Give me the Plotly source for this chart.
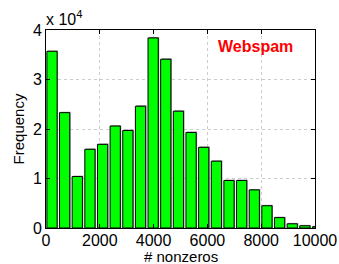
import plotly.graph_objects as go

# Data
bin_centers = [223 + 470 * k for k in range(22)]
frequency = [35700, 23300, 10400, 15900, 16900, 20600, 19700, 24600, 38400, 34100,
             23600, 19300, 16300, 13500, 9600, 9600, 7700, 4500, 2100, 850, 450, 250]
x_ticks = [0, 2000, 4000, 6000, 8000, 10000]
x_tick_labels = ["0", "2000", "4000", "6000", "8000", "10000"]
y_ticks = [0, 10000, 20000, 30000, 40000]
y_tick_labels = ["0", "1", "2", "3", "4"]

FONT = "Liberation Sans, Arial, Helvetica, sans-serif"

fig = go.Figure()
# subtle gray shadow like the MATLAB rendering
fig.add_trace(go.Bar(
    x=[c + 35 for c in bin_centers], y=[v + 180 for v in frequency], width=380,
    marker=dict(color="#9a9a9a", line=dict(width=0)), hoverinfo="skip", showlegend=False))
fig.add_trace(go.Bar(
    x=bin_centers, y=frequency, width=380,
    marker=dict(color="#00FF00", line=dict(color="black", width=1)), showlegend=False))

fig.update_layout(
    width=339, height=264, barmode="overlay",
    margin=dict(l=46, r=24, t=30, b=36, autoexpand=False),
    paper_bgcolor="white", plot_bgcolor="white",
    font=dict(family=FONT, size=16, color="black"),
    annotations=[
        dict(text="x 10<sup>4</sup>", xref="paper", yref="paper", x=0, y=1.0,
             xanchor="left", yanchor="bottom", showarrow=False, yshift=0, xshift=-2,
             font=dict(family=FONT, size=16, color="black")),
        dict(text="<b>Webspam</b>", xref="paper", yref="paper", x=0.78, y=0.915,
             xanchor="center", yanchor="middle", showarrow=False,
             font=dict(family=FONT, size=16, color="#FF0000")),
        dict(text="# nonzeros", xref="paper", yref="paper", x=0.5, y=0,
             xanchor="center", yanchor="middle", yshift=-28, showarrow=False,
             font=dict(family=FONT, size=15, color="black")),
    ],
)
fig.update_xaxes(
    range=[0, 10000], tickvals=x_ticks, ticktext=x_tick_labels, ticks="inside",
    ticklen=4, tickcolor="black", automargin=False, ticklabelstandoff=-2,
    showline=True, linecolor="black", linewidth=1, mirror="ticks",
    showgrid=True, gridcolor="#cccccc", griddash="dot", gridwidth=1, zeroline=False,
    tickfont=dict(size=16))
fig.update_yaxes(
    range=[0, 40000], tickvals=y_ticks, ticktext=y_tick_labels, ticks="inside",
    ticklen=4, tickcolor="black", automargin=False,
    showline=True, linecolor="black", linewidth=1, mirror="ticks",
    showgrid=True, gridcolor="#cccccc", griddash="dot", gridwidth=1, zeroline=False,
    title=dict(text="Frequency", standoff=4, font=dict(size=15)),
    tickfont=dict(size=16))

fig.write_html(
    "out.html",
    config={"displayModeBar": False},
    post_script="document.body.style.margin='0';document.body.style.padding='0';",
)
